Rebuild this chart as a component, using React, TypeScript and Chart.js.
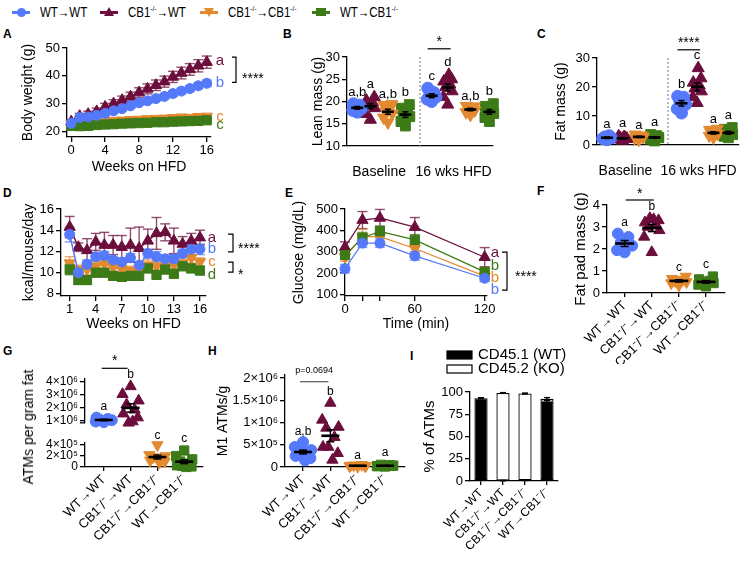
import React, { useEffect, useRef } from "react";
import { Chart, registerables } from "chart.js";

Chart.register(...registerables);

const FONT = "'Liberation Sans', Arial, Helvetica, sans-serif";

// ---------- colours / groups ----------
const C_WT = "#5479FB";
const C_KOWT = "#6C0E3C";
const C_KOKO = "#E3892F";
const C_WTKO = "#3D7A18";
const GROUPS = ["WT→WT", "CB1⁻/⁻→WT", "CB1⁻/⁻→CB1⁻/⁻", "WT→CB1⁻/⁻"];
const PERIODS = ["Baseline", "16 wks HFD"];
const PANEL_LETTERS = ["A", "B", "C", "D", "E", "F", "G", "H", "I"];

// ---------- A: body weight ----------
const weeksA = [0, 1, 2, 3, 4, 5, 6, 7, 8, 9, 10, 11, 12, 13, 14, 15, 16];
const bwWT = [22.9, 25.0, 25.2, 25.8, 26.5, 27.4, 28.2, 29.2, 30.3, 31.0, 31.8, 32.6, 33.6, 34.5, 35.4, 36.4, 37.3];
const bwWTErr = [0.6, 0.6, 0.7, 0.7, 0.7, 0.8, 0.8, 0.8, 0.9, 0.9, 0.9, 1.0, 1.0, 1.0, 1.1, 1.1, 1.2];
const bwKOWT = [23.5, 25.5, 26.2, 27.2, 28.8, 30.0, 31.2, 32.5, 34.0, 35.3, 36.6, 37.9, 39.6, 41.0, 42.3, 43.6, 44.9];
const bwKOWTErr = [0.8, 1.0, 1.1, 1.2, 1.3, 1.4, 1.5, 1.6, 1.7, 1.8, 1.9, 2.0, 2.0, 2.1, 2.1, 2.2, 2.2];
const bwKOKO = [22.8, 23.1, 23.0, 23.5, 23.6, 23.9, 24.0, 24.2, 24.3, 24.5, 24.6, 24.7, 24.9, 25.1, 25.0, 25.3, 25.4];
const bwKOKOErr = [0.5, 0.5, 0.5, 0.5, 0.5, 0.5, 0.6, 0.6, 0.6, 0.6, 0.6, 0.6, 0.6, 0.6, 0.6, 0.6, 0.6];
const bwWTKO = [22.0, 21.9, 22.0, 22.3, 22.5, 22.6, 22.8, 22.9, 23.0, 23.1, 23.3, 23.3, 23.5, 23.6, 23.7, 23.8, 24.0];
const bwWTKOErr = [0.4, 0.4, 0.4, 0.4, 0.5, 0.5, 0.5, 0.5, 0.5, 0.5, 0.5, 0.5, 0.5, 0.5, 0.5, 0.5, 0.5];
const ticksA_x = [0, 4, 8, 12, 16];
const ticksA_y = [20, 30, 40, 50];

// ---------- B: lean mass ----------
const leanBaseWT = [17.6, 18.0, 18.4, 18.8, 19.2, 19.5];
const leanBaseKOWT = [15.9, 17.2, 18.5, 19.3, 19.8, 20.2, 21.0, 19.5];
const leanBaseKOKO = [15.3, 16.4, 17.3, 17.8, 18.5, 19.2, 19.4];
const leanBaseWTKO = [14.5, 15.5, 16.6, 17.2, 17.8, 18.5, 19.3];
const leanHfdWT = [20.0, 20.5, 21.0, 21.3, 22.0, 23.0];
const leanHfdKOWT = [19.3, 21.0, 22.3, 23.2, 23.8, 24.5, 25.0, 26.0];
const leanHfdKOKO = [17.0, 17.6, 18.0, 18.3, 18.6, 19.0, 18.9];
const leanHfdWTKO = [15.5, 16.4, 17.3, 17.8, 18.3, 18.9, 19.5];
const lettersB_base = ["a,b", "a", "a,b", "b"];
const lettersB_hfd = ["c", "d", "a,b", "b"];
const ticksB_y = [10, 15, 20, 25, 30];

// ---------- C: fat mass ----------
const fatBaseWT = [1.8, 2.2, 2.5, 2.8, 3.2];
const fatBaseKOWT = [1.5, 1.9, 2.2, 2.4, 2.7, 3.0, 2.1, 2.6];
const fatBaseKOKO = [1.8, 2.3, 2.7, 3.0, 3.3, 3.6, 2.9];
const fatBaseWTKO = [1.4, 2.0, 2.5, 2.8, 3.2, 3.6, 2.6];
const fatHfdWT = [11.0, 12.5, 14.0, 15.5, 16.5, 16.8];
const fatHfdKOWT = [14.5, 16.5, 18.5, 19.5, 20.5, 21.5, 23.0, 26.5];
const fatHfdKOKO = [2.6, 3.2, 3.8, 4.2, 4.7, 5.2, 5.6];
const fatHfdWTKO = [2.5, 3.0, 3.6, 4.2, 4.8, 5.4, 6.0];
const lettersC_base = ["a", "a", "a", "a"];
const lettersC_hfd = ["b", "c", "a", "a"];
const ticksC_y = [0, 10, 20, 30];

// ---------- D: food intake ----------
const weeksD = [1, 2, 3, 4, 5, 6, 7, 8, 9, 10, 11, 12, 13, 14, 15, 16];
const kcalWT = [13.6, 10.0, 10.8, 11.5, 11.6, 11.2, 11.0, 11.4, 10.7, 11.8, 11.5, 11.3, 11.3, 11.8, 12.2, 12.2];
const kcalWTErr = [0.7, 0.3, 0.4, 0.4, 0.4, 0.3, 0.4, 0.4, 0.3, 0.4, 0.5, 0.4, 0.4, 0.4, 0.5, 0.5];
const kcalKOWT = [14.3, 12.4, 12.1, 12.9, 12.6, 12.6, 12.4, 12.6, 12.3, 13.0, 13.7, 13.8, 13.0, 12.7, 13.0, 13.3];
const kcalKOWTErr = [1.0, 0.4, 1.1, 0.8, 1.2, 0.9, 1.1, 1.6, 2.0, 1.1, 1.5, 0.8, 1.2, 0.7, 0.7, 0.7];
const kcalKOKO = [10.9, 10.3, 10.3, 10.6, 10.8, 10.5, 10.3, 10.2, 10.1, 10.7, 10.6, 10.6, 10.7, 10.9, 11.4, 11.0];
const kcalKOKOErr = [0.6, 0.4, 0.5, 0.4, 0.5, 0.4, 0.4, 0.4, 0.4, 0.5, 0.5, 0.4, 0.4, 0.5, 0.5, 0.4];
const kcalWTKO = [10.3, 9.3, 9.3, 10.0, 10.0, 9.7, 9.6, 9.7, 9.7, 10.4, 9.8, 10.3, 9.9, 10.6, 10.4, 10.2];
const kcalWTKOErr = [0.5, 0.4, 0.4, 0.4, 0.4, 0.4, 0.4, 0.4, 0.4, 0.4, 0.4, 0.4, 0.4, 0.4, 0.4, 0.4];
const ticksD_x = [1, 4, 7, 10, 13, 16];
const ticksD_y = [8, 10, 12, 14, 16];

// ---------- E: glucose tolerance ----------
const timeE = [0, 15, 30, 60, 120];
const gluWT = [220, 340, 340, 280, 175];
const gluWTErr = [20, 20, 20, 20, 15];
const gluKOWT = [321, 448, 458, 415, 274];
const gluKOWTErr = [25, 40, 40, 45, 45];
const gluKOKO = [275, 370, 370, 315, 185];
const gluKOKOErr = [20, 35, 30, 20, 25];
const gluWTKO = [284, 365, 395, 355, 205];
const gluWTKOErr = [20, 25, 25, 25, 20];
const ticksE_x = [0, 15, 30, 60, 120];
const labeledE_x = [0, 60, 120];
const ticksE_y = [100, 200, 300, 400, 500];

// ---------- F: fat pad mass ----------
const padWT = [1.85, 1.95, 2.15, 2.3, 2.55, 2.7];
const padKOWT = [1.85, 2.55, 2.85, 3.0, 3.1, 3.2, 3.3, 3.35, 3.4];
const padKOKO = [0.35, 0.45, 0.5, 0.55, 0.6, 0.65, 0.75];
const padWTKO = [0.3, 0.38, 0.45, 0.5, 0.55, 0.62, 0.75];
const lettersF = ["a", "b", "c", "c"];
const ticksF_y = [0, 1, 2, 3, 4];

// ---------- G: ATMs per gram fat ----------
const atmWT = [0.85e6, 0.9e6, 1.0e6, 1.05e6, 1.1e6, 1.2e6];
const atmKOWT = [3.6e6, 3.0e6, 2.5e6, 2.2e6, 1.8e6, 1.5e6, 1.2e6, 0.9e6, 0.8e6];
const atmKOKO = [4.0e5, 2.2e5, 2.0e5, 1.8e5, 1.5e5, 1.2e5, 1.0e5, 0.8e5];
const atmWTKO = [3.0e5, 2.0e5, 1.4e5, 1.0e5, 0.6e5, 0.3e5, 0.1e5, 0.0, 0.2e5];
const lettersG = ["a", "b", "c", "c"];
const ticksG_upper = [1e6, 2e6, 3e6, 4e6];
const ticksG_lower = [0, 2e5, 4e5];

// ---------- H: M1 ATMs ----------
const m1WT = [0.56e6, 0.45e6, 0.38e6, 0.33e6, 0.3e6, 0.25e6, 0.2e6, 0.15e6, 0.42e6];
const m1KOWT = [1.44e6, 1.06e6, 0.9e6, 0.88e6, 0.67e6, 0.45e6, 0.31e6, 0.16e6, 0.45e6];
const m1KOKO = [0.01e6, 0.02e6, 0.03e6, 0.04e6, 0.05e6, 0.03e6, 0.02e6];
const m1WTKO = [0.01e6, 0.02e6, 0.03e6, 0.05e6, 0.04e6, 0.02e6, 0.03e6];
const lettersH = ["a,b", "b", "a", "a"];
const ticksH_y = [0, 5e5, 1e6, 1.5e6, 2e6];
const P_VALUE_H = "p=0.0694";

// ---------- I: chimerism ----------
const CHIMERA_LABELS = ["CD45.1 (WT)", "CD45.2 (KO)"];
const cd451 = [93, 0.5, 0.8, 89];
const cd451Err = [0.6, 0.2, 0.2, 1.5];
const cd452 = [0, 98.5, 97.5, 3.5];
const cd452Err = [0, 0.3, 0.5, 1.2];
const ticksI_y = [0, 25, 50, 75, 100];

// ---------- styling helpers ----------
const KINDS = [
  { color: C_WT, style: "circle", rot: 0 },
  { color: C_KOWT, style: "triangle", rot: 0 },
  { color: C_KOKO, style: "triangle", rot: 180 },
  { color: C_WTKO, style: "rect", rot: 0 },
];
const JIT = [0, -1, 1, -0.5, 0.5, -0.9, 0.9, 0.25, -0.25];

function txt(ctx: any, s: string, x: number, y: number, color: string, size: number, align = "center", base = "middle", weight = "normal") {
  ctx.save();
  ctx.fillStyle = color;
  ctx.font = `${weight} ${size}px ${FONT}`;
  ctx.textAlign = align;
  ctx.textBaseline = base;
  ctx.fillText(s, x, y);
  ctx.restore();
}
function stars(ctx: any, s: string, x: number, yVis: number, size: number, align = "center") {
  txt(ctx, s, x, yVis + size * 0.58, "#000", size, align, "alphabetic");
}
function seg(ctx: any, pts: number[][], color = "#000", w = 1.2, dash: number[] = []) {
  ctx.save();
  ctx.strokeStyle = color;
  ctx.lineWidth = w;
  ctx.setLineDash(dash);
  ctx.beginPath();
  pts.forEach((p, i) => (i ? ctx.lineTo(p[0], p[1]) : ctx.moveTo(p[0], p[1])));
  ctx.stroke();
  ctx.restore();
}
function bracket(ctx: any, x1: number, x2: number, y1: number, y2: number) {
  seg(ctx, [[x1, y1], [x2, y1], [x2, y2], [x1, y2]], "#000", 1.2);
}

function drawErrors(c: any, cap: number) {
  const ctx = c.ctx;
  c.data.datasets.forEach((ds: any, i: number) => {
    if (!ds.err) return;
    const meta = c.getDatasetMeta(i);
    const ys = c.scales[meta.yAxisID];
    meta.data.forEach((el: any, j: number) => {
      const e = ds.err[j];
      if (!e) return;
      const raw = ds.data[j];
      const v = typeof raw === "number" ? raw : raw.y;
      const d = Math.abs(ys.getPixelForValue(v + e) - ys.getPixelForValue(v));
      const x = el.x, y = el.y;
      const col = ds.errColor || "#000";
      seg(ctx, [[x, y + d], [x, y - d]], col, 1.4);
      seg(ctx, [[x - cap, y - d], [x + cap, y - d]], col, 1.4);
      seg(ctx, [[x - cap, y + d], [x + cap, y + d]], col, 1.4);
    });
  });
}

function drawDots(c: any, o: any) {
  const ctx = c.ctx, xs = c.scales.x, ys = c.scales.y;
  c.data.datasets.forEach((ds: any) => {
    if (ds.cx === undefined) return;
    const v = ds.data.map((p: any) => p.y);
    const n = v.length;
    const m = v.reduce((a: number, b: number) => a + b, 0) / n;
    const sd = Math.sqrt(v.reduce((a: number, b: number) => a + (b - m) * (b - m), 0) / (n - 1));
    const se = sd / Math.sqrt(n);
    const x = xs.getPixelForValue(ds.cx), ym = ys.getPixelForValue(m);
    const y1 = ys.getPixelForValue(m + se), y2 = ys.getPixelForValue(m - se);
    seg(ctx, [[x - o.halfW, ym], [x + o.halfW, ym]], "#000", 2.6);
    seg(ctx, [[x, y1], [x, y2]], "#000", 1.5);
    seg(ctx, [[x - o.cap, y1], [x + o.cap, y1]], "#000", 1.5);
    seg(ctx, [[x - o.cap, y2], [x + o.cap, y2]], "#000", 1.5);
    if (ds.letter) {
      const top = Math.min(...v.map((q: number) => ys.getPixelForValue(q)));
      const off = ds.pointRotation === 180 ? ds.pointRadius * 0.55 : ds.pointRadius;
      txt(ctx, ds.letter, x, top - off - 2, "#000", o.letterSize, "center", "alphabetic");
    }
  });
}

function makePlugin(spec: any) {
  return {
    id: "figure",
    beforeDatasetsDraw(c: any) {
      if (!spec.errAfter) drawErrors(c, spec.cap ?? 4.5);
    },
    afterDatasetsDraw(c: any) {
      if (spec.errAfter) drawErrors(c, spec.cap ?? 4.5);
      if (spec.dots) drawDots(c, spec.dots);
    },
    afterDraw(c: any) {
      if (spec.draw) spec.draw(c);
    },
  };
}

type Box = { left: number; top: number; w: number; h: number; l: number; t: number; r: number; b: number; titleX?: number; titleSize?: number; padBottom?: number };

function geo(B: Box) {
  const off = B.titleX !== undefined ? (B.titleSize ?? 14) * 0.6 + 4 : 0;
  const padLeft = B.titleX !== undefined ? B.titleX - B.left - off : 0;
  const padBottom = B.padBottom ?? 0;
  return {
    padding: { left: padLeft, top: B.t - B.top, right: B.left + B.w - B.r, bottom: padBottom },
    yWidth: B.l - B.left - padLeft,
    xHeight: B.top + B.h - padBottom - B.b,
  };
}

function titleCfg(text?: string, size = 14) {
  return text
    ? { display: true, text, color: "#000", font: { family: FONT, size }, padding: { top: 4, bottom: 4 } }
    : { display: false };
}

function yScale(o: any) {
  return {
    type: "linear",
    min: o.min,
    max: o.max,
    stacked: o.stacked ?? false,
    afterBuildTicks: (s: any) => {
      s.ticks = o.ticks.map((v: number) => ({ value: v }));
    },
    afterFit: (s: any) => {
      s.width = o.width;
      s.paddingTop = 0;
      s.paddingBottom = 0;
    },
    ticks: {
      color: "#000",
      font: { family: FONT, size: o.tickSize ?? 13 },
      padding: 2,
      autoSkip: false,
      callback: (v: any) => (o.fmt ? o.fmt(v) : String(v)),
    },
    grid: { display: true, drawOnChartArea: false, drawTicks: true, tickLength: 5, color: "#000", lineWidth: 1.3 },
    border: { display: true, color: "#000", width: 1.3 },
    title: titleCfg(o.title, o.titleSize ?? 14),
  };
}

function xScale(o: any) {
  const tl = o.tickLen ?? 5;
  return {
    type: "linear",
    display: o.display ?? true,
    min: o.min,
    max: o.max,
    afterBuildTicks: (s: any) => {
      s.ticks = o.ticks.map((v: number) => ({ value: v }));
    },
    afterFit: (s: any) => {
      s.height = o.height;
      s.paddingLeft = 0;
      s.paddingRight = 0;
    },
    ticks: {
      color: "#000",
      font: { family: FONT, size: o.tickSize ?? 13 },
      padding: o.pad ?? 2,
      autoSkip: false,
      maxRotation: o.rot ?? 0,
      minRotation: o.rot ?? 0,
      callback: (v: any) => (o.fmt ? o.fmt(v) : String(v)),
    },
    grid: { display: true, drawOnChartArea: false, drawTicks: tl > 0, tickLength: tl, color: "#000", lineWidth: 1.3 },
    border: { display: true, color: "#000", width: 1.3 },
    title: titleCfg(o.title, o.titleSize ?? 14),
  };
}

function baseOptions(g: any, scales: any) {
  return {
    responsive: false,
    maintainAspectRatio: false,
    animation: false,
    devicePixelRatio: 1,
    events: [],
    layout: { padding: g.padding },
    plugins: { legend: { display: false }, tooltip: { enabled: false } },
    scales,
  };
}

function lineDs(xs: number[], ys: number[], err: number[], kind: number, r: number, order: number, bw = 1.5) {
  const k = KINDS[kind];
  return {
    data: xs.map((x, i) => ({ x, y: ys[i] })),
    err,
    errColor: k.color + "bb",
    borderColor: k.color,
    backgroundColor: k.color,
    pointBackgroundColor: k.color,
    pointBorderColor: k.color,
    pointStyle: k.style,
    pointRotation: k.rot,
    pointRadius: r,
    pointBorderWidth: 1,
    borderWidth: bw,
    order,
    clip: false,
    tension: 0,
  };
}

function dotDs(vals: number[], cx: number, spread: number, kind: number, r: number, letter: string) {
  const k = KINDS[kind];
  return {
    data: vals.map((v, i) => ({ x: cx + JIT[i % JIT.length] * spread, y: v })),
    cx,
    letter,
    showLine: false,
    pointStyle: k.style,
    pointRotation: k.rot,
    pointRadius: r,
    pointBorderWidth: 1,
    pointBackgroundColor: k.color,
    pointBorderColor: k.color,
    backgroundColor: k.color,
    borderColor: k.color,
    clip: false,
  };
}

const R_LINE = [5, 6.5, 6.5, 6.5];
const R_DOT_B = [6, 7, 7, 7];
const R_DOT = [5.5, 6.5, 6.5, 6.5];
const fmtGroup = (v: number) => GROUPS[Math.round(v)] ?? "";
const fmtPeriod = (v: number) => PERIODS[Math.round(v)] ?? "";
const sci = (v: number) => {
  if (v === 0) return "0";
  const e = Math.floor(Math.log10(v) + 1e-9);
  const m = Math.round((v / Math.pow(10, e)) * 10) / 10;
  const sup = "⁰¹²³⁴⁵⁶⁷⁸⁹";
  return `${m}×10${String(e).split("").map((d) => sup[+d]).join("")}`;
};

// ---------- boxes ----------
const boxA: Box = { left: 0, top: 28, w: 272, h: 152, l: 67, t: 48, r: 211, b: 137, titleX: 28.5 };
const boxB: Box = { left: 272, top: 28, w: 235, h: 152, l: 347, t: 57, r: 493, b: 146, titleX: 318.5 };
const boxC: Box = { left: 507, top: 28, w: 240, h: 152, l: 597, t: 58, r: 742, b: 145, titleX: 561.5 };
const boxD: Box = { left: 0, top: 188, w: 272, h: 149, l: 61, t: 209, r: 206, b: 296, titleX: 29 };
const boxE: Box = { left: 272, top: 188, w: 278, h: 149, l: 345, t: 209, r: 487, b: 296, titleX: 299 };
const boxF: Box = { left: 550, top: 178, w: 197, h: 186, l: 607, t: 205, r: 725, b: 293, titleX: 580.5, titleSize: 15 };
const boxGu: Box = { left: 0, top: 345, w: 215, h: 90, l: 85, t: 378.6, r: 203, b: 422.8, padBottom: 12.2 };
const boxGl: Box = { left: 0, top: 345, w: 215, h: 217, l: 85, t: 442.25, r: 203, b: 467 };
const boxH: Box = { left: 205, top: 345, w: 210, h: 217, l: 285, t: 375, r: 405, b: 467, titleX: 223.5 };
const boxI: Box = { left: 410, top: 340, w: 165, h: 222, l: 470, t: 392, r: 558, b: 481, titleX: 430, titleSize: 15 };

// ---------- builders ----------
function buildA(g: any) {
  const datasets = [
    lineDs(weeksA, bwWT, bwWTErr, 0, R_LINE[0], 0),
    lineDs(weeksA, bwKOWT, bwKOWTErr, 1, R_LINE[1], 2),
    lineDs(weeksA, bwKOKO, bwKOKOErr, 2, R_LINE[2], 3),
    lineDs(weeksA, bwWTKO, bwWTKOErr, 3, R_LINE[3], 1),
  ];
  const draw = (c: any) => {
    const ctx = c.ctx, ys = c.scales.y, ca = c.chartArea;
    const n = weeksA.length - 1;
    const yA = ys.getPixelForValue(bwKOWT[n]);
    const yB = ys.getPixelForValue(bwWT[n]);
    const yC = ys.getPixelForValue(bwKOKO[n]);
    const yD = ys.getPixelForValue(bwWTKO[n]) + 5;
    const lx = ca.right + 9;
    txt(ctx, "a", lx, yA - 1, C_KOWT, 15);
    txt(ctx, "b", lx, yB, C_WT, 15);
    txt(ctx, "c", lx, yC, C_KOKO, 15);
    txt(ctx, "c", lx, yD, C_WTKO, 15);
    bracket(ctx, ca.right + 21, ca.right + 25, yA - 5, yB - 1);
    stars(ctx, "****", ca.right + 31, (yA + yB) / 2 + 2, 14, "left");
  };
  return {
    type: "line",
    data: { datasets },
    options: baseOptions(g, {
      x: xScale({ min: -0.5, max: 16.5, ticks: ticksA_x, height: g.xHeight, title: "Weeks on HFD", pad: 1 }),
      y: yScale({ min: 18, max: 50, ticks: ticksA_y, width: g.yWidth, title: "Body weight (g)" }),
    }),
    plugins: [makePlugin({ draw, cap: 5 })],
  };
}

function periodChart(g: any, base: number[][], hfd: number[][], offB: number[], offH: number[], lb: string[], lh: string[], yMin: number, yMax: number, yTicks: number[], title: string, sig: string, labelPos: number[]) {
  const datasets: any[] = [];
  base.forEach((v, i) => datasets.push(dotDs(v, 0 + offB[i], 0.06, i, R_DOT_B[i], lb[i])));
  hfd.forEach((v, i) => datasets.push(dotDs(v, 1 + offH[i], 0.06, i, R_DOT_B[i], lh[i])));
  const draw = (c: any) => {
    const ctx = c.ctx, xs = c.scales.x, ca = c.chartArea;
    const xm = xs.getPixelForValue(0.5);
    seg(ctx, [[xm, ca.top], [xm, ca.bottom]], "#777", 1, [2, 2]);
    const a = xs.getPixelForValue(1 + offH[0]) - 4;
    const b = xs.getPixelForValue(1 + offH[1]) + 3;
    seg(ctx, [[a, ca.top - 8.2], [b, ca.top - 8.2]], "#000", 1.2);
    stars(ctx, sig, (a + b) / 2, ca.top - 19, 14);
  };
  return {
    type: "scatter",
    data: { datasets },
    options: baseOptions(g, {
      x: xScale({ min: -0.5, max: 1.5, ticks: labelPos, fmt: fmtPeriod, height: g.xHeight, tickLen: 0, pad: 18, tickSize: 14 }),
      y: yScale({ min: yMin, max: yMax, ticks: yTicks, width: g.yWidth, title }),
    }),
    plugins: [makePlugin({ draw, dots: { halfW: 6, cap: 3, letterSize: 13 } })],
  };
}

function buildB(g: any) {
  return periodChart(
    g,
    [leanBaseWT, leanBaseKOWT, leanBaseKOKO, leanBaseWTKO],
    [leanHfdWT, leanHfdKOWT, leanHfdKOKO, leanHfdWTKO],
    [-0.36, -0.18, 0.06, 0.3],
    [-0.34, -0.12, 0.19, 0.45],
    lettersB_base,
    lettersB_hfd,
    10,
    30,
    ticksB_y,
    "Lean mass (g)",
    "*",
    [-0.06, 0.96]
  );
}
function buildC(g: any) {
  return periodChart(
    g,
    [fatBaseWT, fatBaseKOWT, fatBaseKOKO, fatBaseWTKO],
    [fatHfdWT, fatHfdKOWT, fatHfdKOKO, fatHfdWTKO],
    [-0.36, -0.14, 0.09, 0.31],
    [-0.31, -0.09, 0.14, 0.35],
    lettersC_base,
    lettersC_hfd,
    0,
    30,
    ticksC_y,
    "Fat mass (g)",
    "****",
    [-0.1, 0.93]
  );
}

function buildD(g: any) {
  const datasets = [
    lineDs(weeksD, kcalWT, kcalWTErr, 0, R_LINE[0], 0),
    lineDs(weeksD, kcalKOWT, kcalKOWTErr, 1, R_LINE[1], 2),
    lineDs(weeksD, kcalKOKO, kcalKOKOErr, 2, R_LINE[2], 3),
    lineDs(weeksD, kcalWTKO, kcalWTKOErr, 3, R_LINE[3], 1),
  ];
  const draw = (c: any) => {
    const ctx = c.ctx, ys = c.scales.y, ca = c.chartArea;
    const n = weeksD.length - 1;
    const ya = ys.getPixelForValue(kcalKOWT[n]);
    const yb = ys.getPixelForValue(kcalWT[n]);
    const yc = ys.getPixelForValue(kcalKOKO[n]);
    const yd = ys.getPixelForValue(kcalWTKO[n]) + 4.5;
    const lx = ca.right + 6;
    txt(ctx, "a", lx, ya, C_KOWT, 15);
    txt(ctx, "b", lx, yb, C_WT, 15);
    txt(ctx, "c", lx, yc, C_KOKO, 15);
    txt(ctx, "d", lx, yd, C_WTKO, 15);
    bracket(ctx, ca.right + 22, ca.right + 27, ya - 3.5, yb + 2.5);
    stars(ctx, "****", ca.right + 32, (ya + yb) / 2 + 1, 14, "left");
    bracket(ctx, ca.right + 22, ca.right + 27, yc, yd - 3);
    stars(ctx, "*", ca.right + 32, (yc + yd) / 2 + 2, 14, "left");
  };
  return {
    type: "line",
    data: { datasets },
    options: baseOptions(g, {
      x: xScale({ min: 0, max: 16.7, ticks: ticksD_x, height: g.xHeight, title: "Weeks on HFD", pad: 1 }),
      y: yScale({ min: 7.8, max: 16, ticks: ticksD_y, width: g.yWidth, title: "kcal/mouse/day" }),
    }),
    plugins: [makePlugin({ draw, cap: 5 })],
  };
}

function buildE(g: any) {
  const datasets = [
    lineDs(timeE, gluWT, gluWTErr, 0, R_LINE[0], 0, 1.2),
    lineDs(timeE, gluKOWT, gluKOWTErr, 1, R_LINE[1], 2, 1.2),
    lineDs(timeE, gluKOKO, gluKOKOErr, 2, R_LINE[2], 3, 1.2),
    lineDs(timeE, gluWTKO, gluWTKOErr, 3, R_LINE[3], 1, 1.2),
  ];
  const draw = (c: any) => {
    const ctx = c.ctx, ys = c.scales.y, ca = c.chartArea;
    const n = timeE.length - 1;
    const ya = ys.getPixelForValue(gluKOWT[n]) - 4;
    const step = 12.3;
    const labs: [string, string][] = [["a", C_KOWT], ["b", C_WTKO], ["b", C_KOKO], ["b", C_WT]];
    labs.forEach(([s, col], i) => txt(ctx, s, ca.right + 8, ya + i * step, col, 15));
    bracket(ctx, ca.right + 15, ca.right + 20, ya - 1, ya + 3 * step);
    stars(ctx, "****", ca.right + 28, ya + 1.6 * step, 14, "left");
  };
  return {
    type: "line",
    data: { datasets },
    options: baseOptions(g, {
      x: xScale({
        min: 0,
        max: 122,
        ticks: ticksE_x,
        fmt: (v: number) => (labeledE_x.includes(v) ? String(v) : ""),
        height: g.xHeight,
        title: "Time (min)",
        pad: 1,
      }),
      y: yScale({ min: 92, max: 500, ticks: ticksE_y, width: g.yWidth, title: "Glucose (mg/dL)" }),
    }),
    plugins: [makePlugin({ draw, cap: 5 })],
  };
}

function buildF(g: any) {
  const vals = [padWT, padKOWT, padKOKO, padWTKO];
  const datasets = vals.map((v, i) => dotDs(v, i, 0.28, i, R_DOT[i], lettersF[i]));
  const draw = (c: any) => {
    const ctx = c.ctx, xs = c.scales.x, ca = c.chartArea;
    const a = xs.getPixelForValue(0) + 1, b = xs.getPixelForValue(1) + 2;
    seg(ctx, [[a, ca.top - 5], [b, ca.top - 5]], "#000", 1.2);
    stars(ctx, "*", (a + b) / 2, ca.top - 15, 14);
  };
  return {
    type: "scatter",
    data: { datasets },
    options: baseOptions(g, {
      x: xScale({ min: -0.65, max: 3.7, ticks: [0, 1, 2, 3], fmt: fmtGroup, height: g.xHeight, rot: 45, tickLen: 4, pad: 1 }),
      y: yScale({ min: 0, max: 4, ticks: ticksF_y, width: g.yWidth, title: "Fat pad mass (g)", titleSize: 15 }),
    }),
    plugins: [makePlugin({ draw, dots: { halfW: 9.5, cap: 4, letterSize: 12 } })],
  };
}

function buildGUpper(g: any) {
  const datasets = [dotDs(atmWT, 0, 0.3, 0, R_DOT[0], lettersG[0]), dotDs(atmKOWT, 1, 0.3, 1, R_DOT[1], lettersG[1])];
  const draw = (c: any) => {
    const ctx = c.ctx, xs = c.scales.x, ca = c.chartArea;
    const a = xs.getPixelForValue(0) - 2, b = xs.getPixelForValue(1) - 3;
    seg(ctx, [[a, ca.top - 10.3], [b, ca.top - 10.3]], "#000", 1.2);
    stars(ctx, "*", (a + b) / 2, ca.top - 21.6, 14);
    seg(ctx, [[ca.left - 5, ca.bottom], [ca.left, ca.bottom]], "#000", 1.3);
  };
  return {
    type: "scatter",
    data: { datasets },
    options: baseOptions(g, {
      x: xScale({ display: false, min: -0.7, max: 3.7, ticks: [0, 1, 2, 3], height: 0 }),
      y: yScale({ min: 0.8e6, max: 4.2e6, ticks: ticksG_upper, width: g.yWidth, fmt: sci, tickSize: 12 }),
    }),
    plugins: [makePlugin({ draw, dots: { halfW: 9, cap: 4, letterSize: 12 } })],
  };
}

function buildGLower(g: any) {
  const datasets = [dotDs(atmKOKO, 2, 0.3, 2, R_DOT[2], lettersG[2]), dotDs(atmWTKO, 3, 0.3, 3, R_DOT[3], lettersG[3])];
  return {
    type: "scatter",
    data: { datasets },
    options: baseOptions(g, {
      x: xScale({ min: -0.7, max: 3.7, ticks: [0, 1, 2, 3], fmt: fmtGroup, height: g.xHeight, rot: 45, tickLen: 4, pad: 1 }),
      y: yScale({ min: 0, max: 4.5e5, ticks: ticksG_lower, width: g.yWidth, fmt: sci, tickSize: 12 }),
    }),
    plugins: [makePlugin({ dots: { halfW: 9, cap: 4, letterSize: 12 } })],
  };
}

function buildH(g: any) {
  const vals = [m1WT, m1KOWT, m1KOKO, m1WTKO];
  const datasets = vals.map((v, i) => dotDs(v, i, 0.3, i, R_DOT[i], lettersH[i]));
  const draw = (c: any) => {
    const ctx = c.ctx, xs = c.scales.x, ca = c.chartArea;
    const a = xs.getPixelForValue(0) - 3, b = xs.getPixelForValue(1) - 2;
    seg(ctx, [[a, ca.top + 6.7], [b, ca.top + 6.7]], "#555", 1.2);
    txt(ctx, P_VALUE_H, (a + b) / 2, ca.top - 4, "#000", 9);
  };
  return {
    type: "scatter",
    data: { datasets },
    options: baseOptions(g, {
      x: xScale({ min: -0.66, max: 3.73, ticks: [0, 1, 2, 3], fmt: fmtGroup, height: g.xHeight, rot: 45, tickLen: 4, pad: 1 }),
      y: yScale({ min: 0, max: 2.07e6, ticks: ticksH_y, width: g.yWidth, fmt: sci, title: "M1 ATMs/g" }),
    }),
    plugins: [makePlugin({ draw, dots: { halfW: 9, cap: 4, letterSize: 12 } })],
  };
}

function buildI(g: any) {
  const common = { borderColor: "#000", borderWidth: 1.3, borderSkipped: false, barPercentage: 0.6, categoryPercentage: 1, errColor: "#000" };
  const datasets = [
    { ...common, label: CHIMERA_LABELS[0], data: cd451, err: cd451Err, backgroundColor: "#000" },
    { ...common, label: CHIMERA_LABELS[1], data: cd452, err: cd452Err, backgroundColor: "#fff" },
  ];
  const draw = (c: any) => {
    const ctx = c.ctx, ca = c.chartArea;
    const x0 = ca.left - 23;
    c.data.datasets.forEach((ds: any, i: number) => {
      const yc = ca.top - 37 + i * 14;
      ctx.save();
      ctx.fillStyle = ds.backgroundColor;
      ctx.fillRect(x0, yc - 4, 25, 8);
      ctx.strokeStyle = "#000";
      ctx.lineWidth = 1.2;
      ctx.strokeRect(x0, yc - 4, 25, 8);
      ctx.restore();
      txt(ctx, ds.label, x0 + 31, yc, "#000", 15, "left");
    });
  };
  return {
    type: "bar",
    data: { labels: GROUPS, datasets },
    options: baseOptions(g, {
      x: {
        type: "category",
        stacked: true,
        afterFit: (s: any) => {
          s.height = g.xHeight;
          s.paddingLeft = 0;
          s.paddingRight = 0;
        },
        ticks: { color: "#000", font: { family: FONT, size: 12 }, padding: 1, autoSkip: false, maxRotation: 45, minRotation: 45 },
        grid: { display: true, offset: false, drawOnChartArea: false, drawTicks: true, tickLength: 4, color: "#000", lineWidth: 1.3 },
        border: { display: true, color: "#000", width: 1.3 },
      },
      y: yScale({ min: 0, max: 100, ticks: ticksI_y, width: g.yWidth, title: "% of ATMs", titleSize: 15, stacked: true }),
    }),
    plugins: [makePlugin({ draw, errAfter: true, cap: 3 })],
  };
}

// ---------- React ----------
function ChartBox({ B, build }: { B: Box; build: (g: any) => any }) {
  const ref = useRef<HTMLCanvasElement | null>(null);
  useEffect(() => {
    const ch = new Chart(ref.current as HTMLCanvasElement, build(geo(B)));
    return () => ch.destroy();
  }, []);
  return (
    <canvas
      ref={ref}
      width={B.w}
      height={B.h}
      style={{ position: "absolute", left: B.left, top: B.top, width: B.w, height: B.h }}
    />
  );
}

function supLabel(s: string) {
  const parts = s.split("⁻/⁻");
  const out: any[] = [];
  parts.forEach((p, i) => {
    out.push(<span key={"p" + i}>{p}</span>);
    if (i < parts.length - 1)
      out.push(
        <span key={"s" + i} style={{ fontSize: 8, position: "relative", top: -6 }}>
          -/-
        </span>
      );
  });
  return out;
}

function Marker({ kind, cx, cy }: { kind: number; cx: number; cy: number }) {
  const col = KINDS[kind].color;
  if (kind === 0)
    return <div style={{ position: "absolute", left: cx - 4.5, top: cy - 4.5, width: 9, height: 9, borderRadius: "50%", background: col }} />;
  if (kind === 1)
    return (
      <div
        style={{
          position: "absolute",
          left: cx - 5.5,
          top: cy - 5,
          width: 0,
          height: 0,
          borderLeft: "5.5px solid transparent",
          borderRight: "5.5px solid transparent",
          borderBottom: `9px solid ${col}`,
        }}
      />
    );
  if (kind === 2)
    return (
      <div
        style={{
          position: "absolute",
          left: cx - 5.5,
          top: cy - 4,
          width: 0,
          height: 0,
          borderLeft: "5.5px solid transparent",
          borderRight: "5.5px solid transparent",
          borderTop: `9px solid ${col}`,
        }}
      />
    );
  return <div style={{ position: "absolute", left: cx - 5, top: cy - 4, width: 10, height: 8, background: col }} />;
}

const LEGEND_POS = [
  { x: 12, tx: 40 },
  { x: 100, tx: 128 },
  { x: 200, tx: 228 },
  { x: 312, tx: 340 },
];

const LETTER_POS = [
  [3, 28],
  [283, 28],
  [537, 28],
  [3, 187],
  [285, 187],
  [537, 185],
  [3, 345],
  [208, 345],
  [410, 350],
];

export default function App() {
  return (
    <div
      style={{
        position: "absolute",
        left: 0,
        top: 0,
        width: 747,
        height: 562,
        background: "#fff",
        fontFamily: FONT,
        overflow: "hidden",
        color: "#000",
      }}
    >
      {GROUPS.map((gname, i) => (
        <React.Fragment key={gname}>
          <div style={{ position: "absolute", left: LEGEND_POS[i].x, top: 11, width: 18, height: 2.5, background: KINDS[i].color }} />
          <Marker kind={i} cx={LEGEND_POS[i].x + 9} cy={12} />
          <div
            style={{
              position: "absolute",
              left: LEGEND_POS[i].tx,
              top: 3,
              fontSize: 14,
              lineHeight: "18px",
              whiteSpace: "nowrap",
              transform: "scaleX(0.82)",
              transformOrigin: "left center",
            }}
          >
            {supLabel(gname)}
          </div>
        </React.Fragment>
      ))}
      {PANEL_LETTERS.map((L, i) => (
        <div
          key={L}
          style={{ position: "absolute", left: LETTER_POS[i][0], top: LETTER_POS[i][1], fontSize: 12, fontWeight: "bold", lineHeight: "12px" }}
        >
          {L}
        </div>
      ))}
      <ChartBox B={boxA} build={buildA} />
      <ChartBox B={boxB} build={buildB} />
      <ChartBox B={boxC} build={buildC} />
      <ChartBox B={boxD} build={buildD} />
      <ChartBox B={boxE} build={buildE} />
      <ChartBox B={boxF} build={buildF} />
      <ChartBox B={boxGl} build={buildGLower} />
      <ChartBox B={boxGu} build={buildGUpper} />
      <ChartBox B={boxH} build={buildH} />
      <ChartBox B={boxI} build={buildI} />
      <div
        style={{
          position: "absolute",
          left: 27.5,
          top: 427,
          transform: "translate(-50%, -50%) rotate(-90deg)",
          whiteSpace: "nowrap",
          fontSize: 14,
          lineHeight: "16px",
        }}
      >
        ATMs per gram fat
      </div>
    </div>
  );
}
